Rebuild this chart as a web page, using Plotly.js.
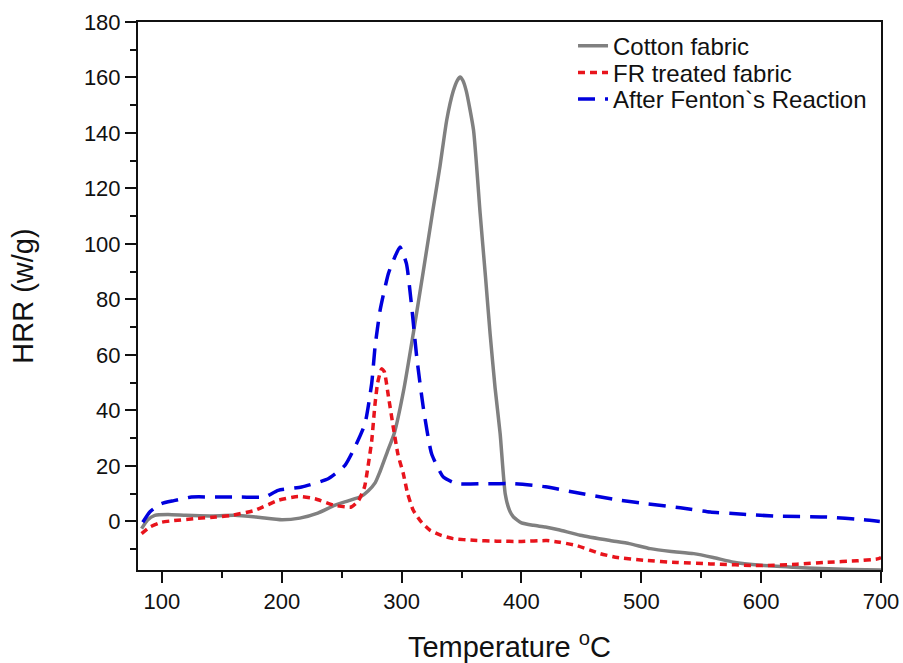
<!DOCTYPE html>
<html>
<head>
<meta charset="utf-8">
<script src="https://cdn.plot.ly/plotly-3.0.1.min.js"></script>
<style>html,body{margin:0;padding:0;background:#fff;}#chart{width:903px;height:663px;}</style>
</head>
<body>
<div id="chart"></div>
<script>
// Cotton fabric
const cottonT = [83, 88, 94, 105, 120, 140, 161, 180, 200, 215, 230, 244, 256, 266, 272, 278, 282, 288, 294, 302, 309.7, 318, 326, 332, 337.6, 343, 346.5, 348.8, 351, 354, 360, 365.5, 370, 373.8, 378, 382.2, 386.4, 390, 393.3, 400, 410, 420, 431, 449, 474, 490, 507.5, 525, 543.7, 560, 577, 600, 627, 650, 675, 700];
const cottonHRR = [-2.6, 0.5, 2.2, 2.5, 2.2, 2.0, 2.2, 1.5, 0.6, 1.2, 3, 5.8, 7.5, 9, 11, 14, 18, 25, 32, 48, 67.7, 90, 112, 128, 144.6, 155, 159, 160.2, 159, 155, 141, 111, 88, 67.7, 48, 31.6, 10, 4, 1.6, -0.5, -1.4, -2, -3, -5, -6.9, -8, -9.8, -10.8, -11.6, -13, -14.7, -15.8, -16.5, -17, -17.3, -17.5];
// FR treated fabric
const frT = [83, 90, 99.5, 110, 127, 145, 158, 177.5, 197, 213.7, 227.6, 244, 258, 264, 269, 272, 275, 277.8, 280, 283.3, 285.5, 289, 293, 297, 301.4, 305, 309.7, 316, 323.7, 333, 343, 360, 379.4, 400, 421, 432, 446, 465.7, 480, 502, 530, 557.6, 599, 630, 655, 680, 697, 700];
const frHRR = [-4.4, -2, -0.3, 0.3, 1, 1.6, 2.2, 4, 7.6, 9, 8.2, 5.8, 5.2, 7.5, 12.4, 20, 29, 42.4, 50, 55, 54, 45, 34, 24, 17.2, 10, 4, 0, -3.2, -5, -6.2, -6.8, -7.1, -7.2, -6.9, -7.5, -8.7, -11.6, -13, -14, -14.8, -15.3, -15.9, -15.4, -14.7, -14.2, -13.5, -13];
// After Fenton's Reaction
const fentonT = [84, 90, 99.5, 110, 124.6, 145, 166.4, 185.8, 197, 216.5, 238.7, 252.7, 261, 269.4, 275, 277.8, 282, 288.9, 294, 298.6, 304, 308.4, 312.6, 318, 325, 334.8, 346, 370, 393, 420, 443, 482.4, 504.7, 532.5, 557.6, 585, 613, 655, 685.7, 699];
const fentonHRR = [-0.3, 3.5, 6.4, 7.5, 8.8, 8.8, 8.8, 8.8, 11.2, 12.4, 15.4, 20.2, 26.8, 35.2, 49.7, 62.9, 76, 89.3, 95, 98.9, 92.9, 77.3, 59.2, 41.2, 24.4, 16, 13.6, 13.6, 13.6, 12.5, 10.6, 7.6, 6.4, 4.9, 3.4, 2.6, 1.9, 1.6, 0.6, 0];

const seriesNames = ["Cotton fabric", "FR treated fabric", "After Fenton`s Reaction"];
const xTicks = [100, 200, 300, 400, 500, 600, 700];
const yTicks = [0, 20, 40, 60, 80, 100, 120, 140, 160, 180];

const font = "Liberation Sans, Arial, sans-serif";
const ink = "#111";
const traces = [
  {x: cottonT, y: cottonHRR, name: seriesNames[0], mode: "lines", legend: "legend",
   line: {color: "#808080", width: 3.5, shape: "spline", smoothing: 0.5}},
  {x: frT, y: frHRR, name: seriesNames[1], mode: "lines", legend: "legend2",
   line: {color: "#e8141c", width: 3.5, dash: "7px,5px", shape: "spline", smoothing: 0.5}},
  {x: fentonT, y: fentonHRR, name: seriesNames[2], mode: "lines", legend: "legend3",
   line: {color: "#0000dd", width: 3.5, dash: "17px,10px", shape: "spline", smoothing: 0.5}}
];
function leg(y) {
  return {x: 0.5855, y: y, xanchor: "left", yanchor: "top",
          font: {size: 24, family: font, color: ink}, bgcolor: "rgba(0,0,0,0)"};
}
const axisCommon = {
  ticks: "outside", ticklen: 11, tickwidth: 2, tickcolor: ink,
  showline: true, linecolor: ink, linewidth: 2, mirror: true,
  showgrid: false, zeroline: false,
  tickfont: {size: 22, family: font, color: ink}
};
const layout = {
  width: 903, height: 663,
  margin: {l: 138, r: 22, t: 22, b: 93},
  paper_bgcolor: "#fff", plot_bgcolor: "#fff",
  font: {family: font, color: ink},
  showlegend: true,
  legend: leg(0.997),
  legend2: leg(0.948),
  legend3: leg(0.900),
  xaxis: Object.assign({}, axisCommon, {
    range: [80, 700], tickvals: xTicks, ticktext: xTicks.map(String),
    minor: {dtick: 50, tick0: 0, ticks: "outside", ticklen: 6, tickwidth: 2, tickcolor: ink},
    title: {text: "Temperature <sup>o</sup>C", font: {size: 29, family: font, color: ink}, standoff: 26}}),
  yaxis: Object.assign({}, axisCommon, {
    range: [-17.5, 180], tickvals: yTicks, ticktext: yTicks.map(String),
    minor: {dtick: 10, tick0: 0, ticks: "outside", ticklen: 6, tickwidth: 2, tickcolor: ink},
    title: {text: "HRR (w/g)", font: {size: 29, family: font, color: ink}, standoff: 42}})
};
Plotly.newPlot("chart", traces, layout, {displayModeBar: false, staticPlot: true});
</script>
</body>
</html>
